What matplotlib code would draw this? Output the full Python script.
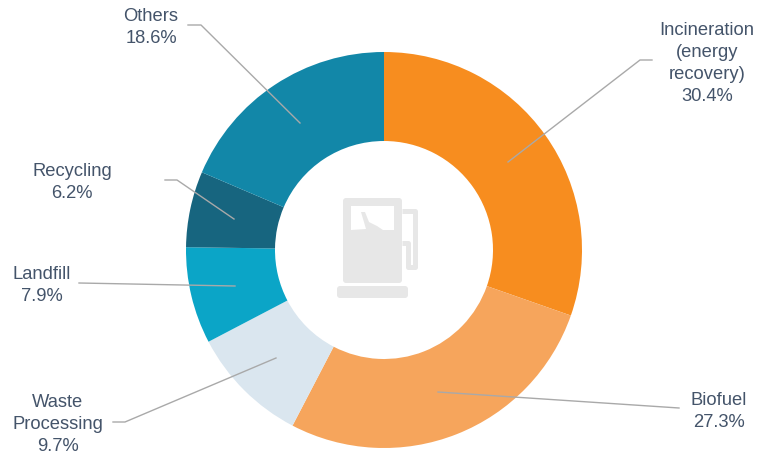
import matplotlib
matplotlib.use('Agg')
import matplotlib.pyplot as plt
from matplotlib.patches import FancyBboxPatch, Polygon
from matplotlib.path import Path
from matplotlib.patches import PathPatch

W, H = 758, 454

categories = ['Incineration\n(energy\nrecovery)', 'Biofuel', 'Waste\nProcessing', 'Landfill', 'Recycling', 'Others']
shares = [30.4, 27.3, 9.7, 7.9, 6.2, 18.6]
colors = ['#F78D1F', '#F6A55C', '#DAE6EF', '#0BA5C7', '#17657F', '#1287A8']
label_pos = [(707, 63.5), (719, 411.5), (58, 424.5), (42, 285.5), (72, 182.5), (151, 27.5)]
leaders = [
    [(508, 162), (640, 60), (652, 60)],
    [(438, 392), (679, 408)],
    [(276, 358), (125, 422), (113, 422)],
    [(235, 286), (79, 283)],
    [(234, 219), (177, 180), (165, 180)],
    [(300, 123), (201, 25), (188, 25)],
]

TEXT = '#44546A'
ICON = '#E7E7E7'


def yy(p):
    return H - p


fig = plt.figure(figsize=(W / 100, H / 100), dpi=100)
ax = fig.add_axes([0, 0, 1, 1])

ax.pie(shares, colors=colors, startangle=90, counterclock=False,
       center=(384, yy(250)), radius=198, frame=True,
       wedgeprops={'width': 89, 'linewidth': 0})
ax.set_xlim(0, W)
ax.set_ylim(0, H)
ax.set_aspect('equal')
ax.axis('off')

for pts in leaders:
    ax.plot([p[0] for p in pts], [yy(p[1]) for p in pts], color='#A9A9A9', lw=1.0, zorder=3)

for name, share, pos in zip(categories, shares, label_pos):
    ax.text(pos[0], yy(pos[1]), f'{name}\n{share:.1f}%', ha='center', va='center',
            color=TEXT, fontsize=13.2, family='Liberation Sans', linespacing=1.37, zorder=4)

# fuel pump icon
ax.add_patch(FancyBboxPatch((345, yy(281)), 55, 81, boxstyle='round,pad=2,rounding_size=3',
                            fc=ICON, ec='none', zorder=2))
ax.add_patch(FancyBboxPatch((339, yy(296)), 67, 8, boxstyle='round,pad=2,rounding_size=3',
                            fc=ICON, ec='none', zorder=2))
ax.add_patch(Polygon([(351, yy(206)), (394, yy(206)), (394, yy(230)), (383, yy(230)), (377, yy(226)),
                      (369, yy(222)), (365, yy(212)), (361, yy(212)), (366, yy(229)), (351, yy(230))],
                     closed=True, fc='white', ec='none', zorder=2.5))
hose = Path([(402, yy(211)), (415, yy(211)), (415, yy(267)), (408, yy(267)), (408, yy(243)), (402, yy(243))],
            [Path.MOVETO, Path.LINETO, Path.LINETO, Path.LINETO, Path.LINETO, Path.LINETO])
ax.add_patch(PathPatch(hose, fc='none', ec=ICON, lw=3.6, joinstyle='round', zorder=2))

fig.savefig('out.png', dpi=100)
